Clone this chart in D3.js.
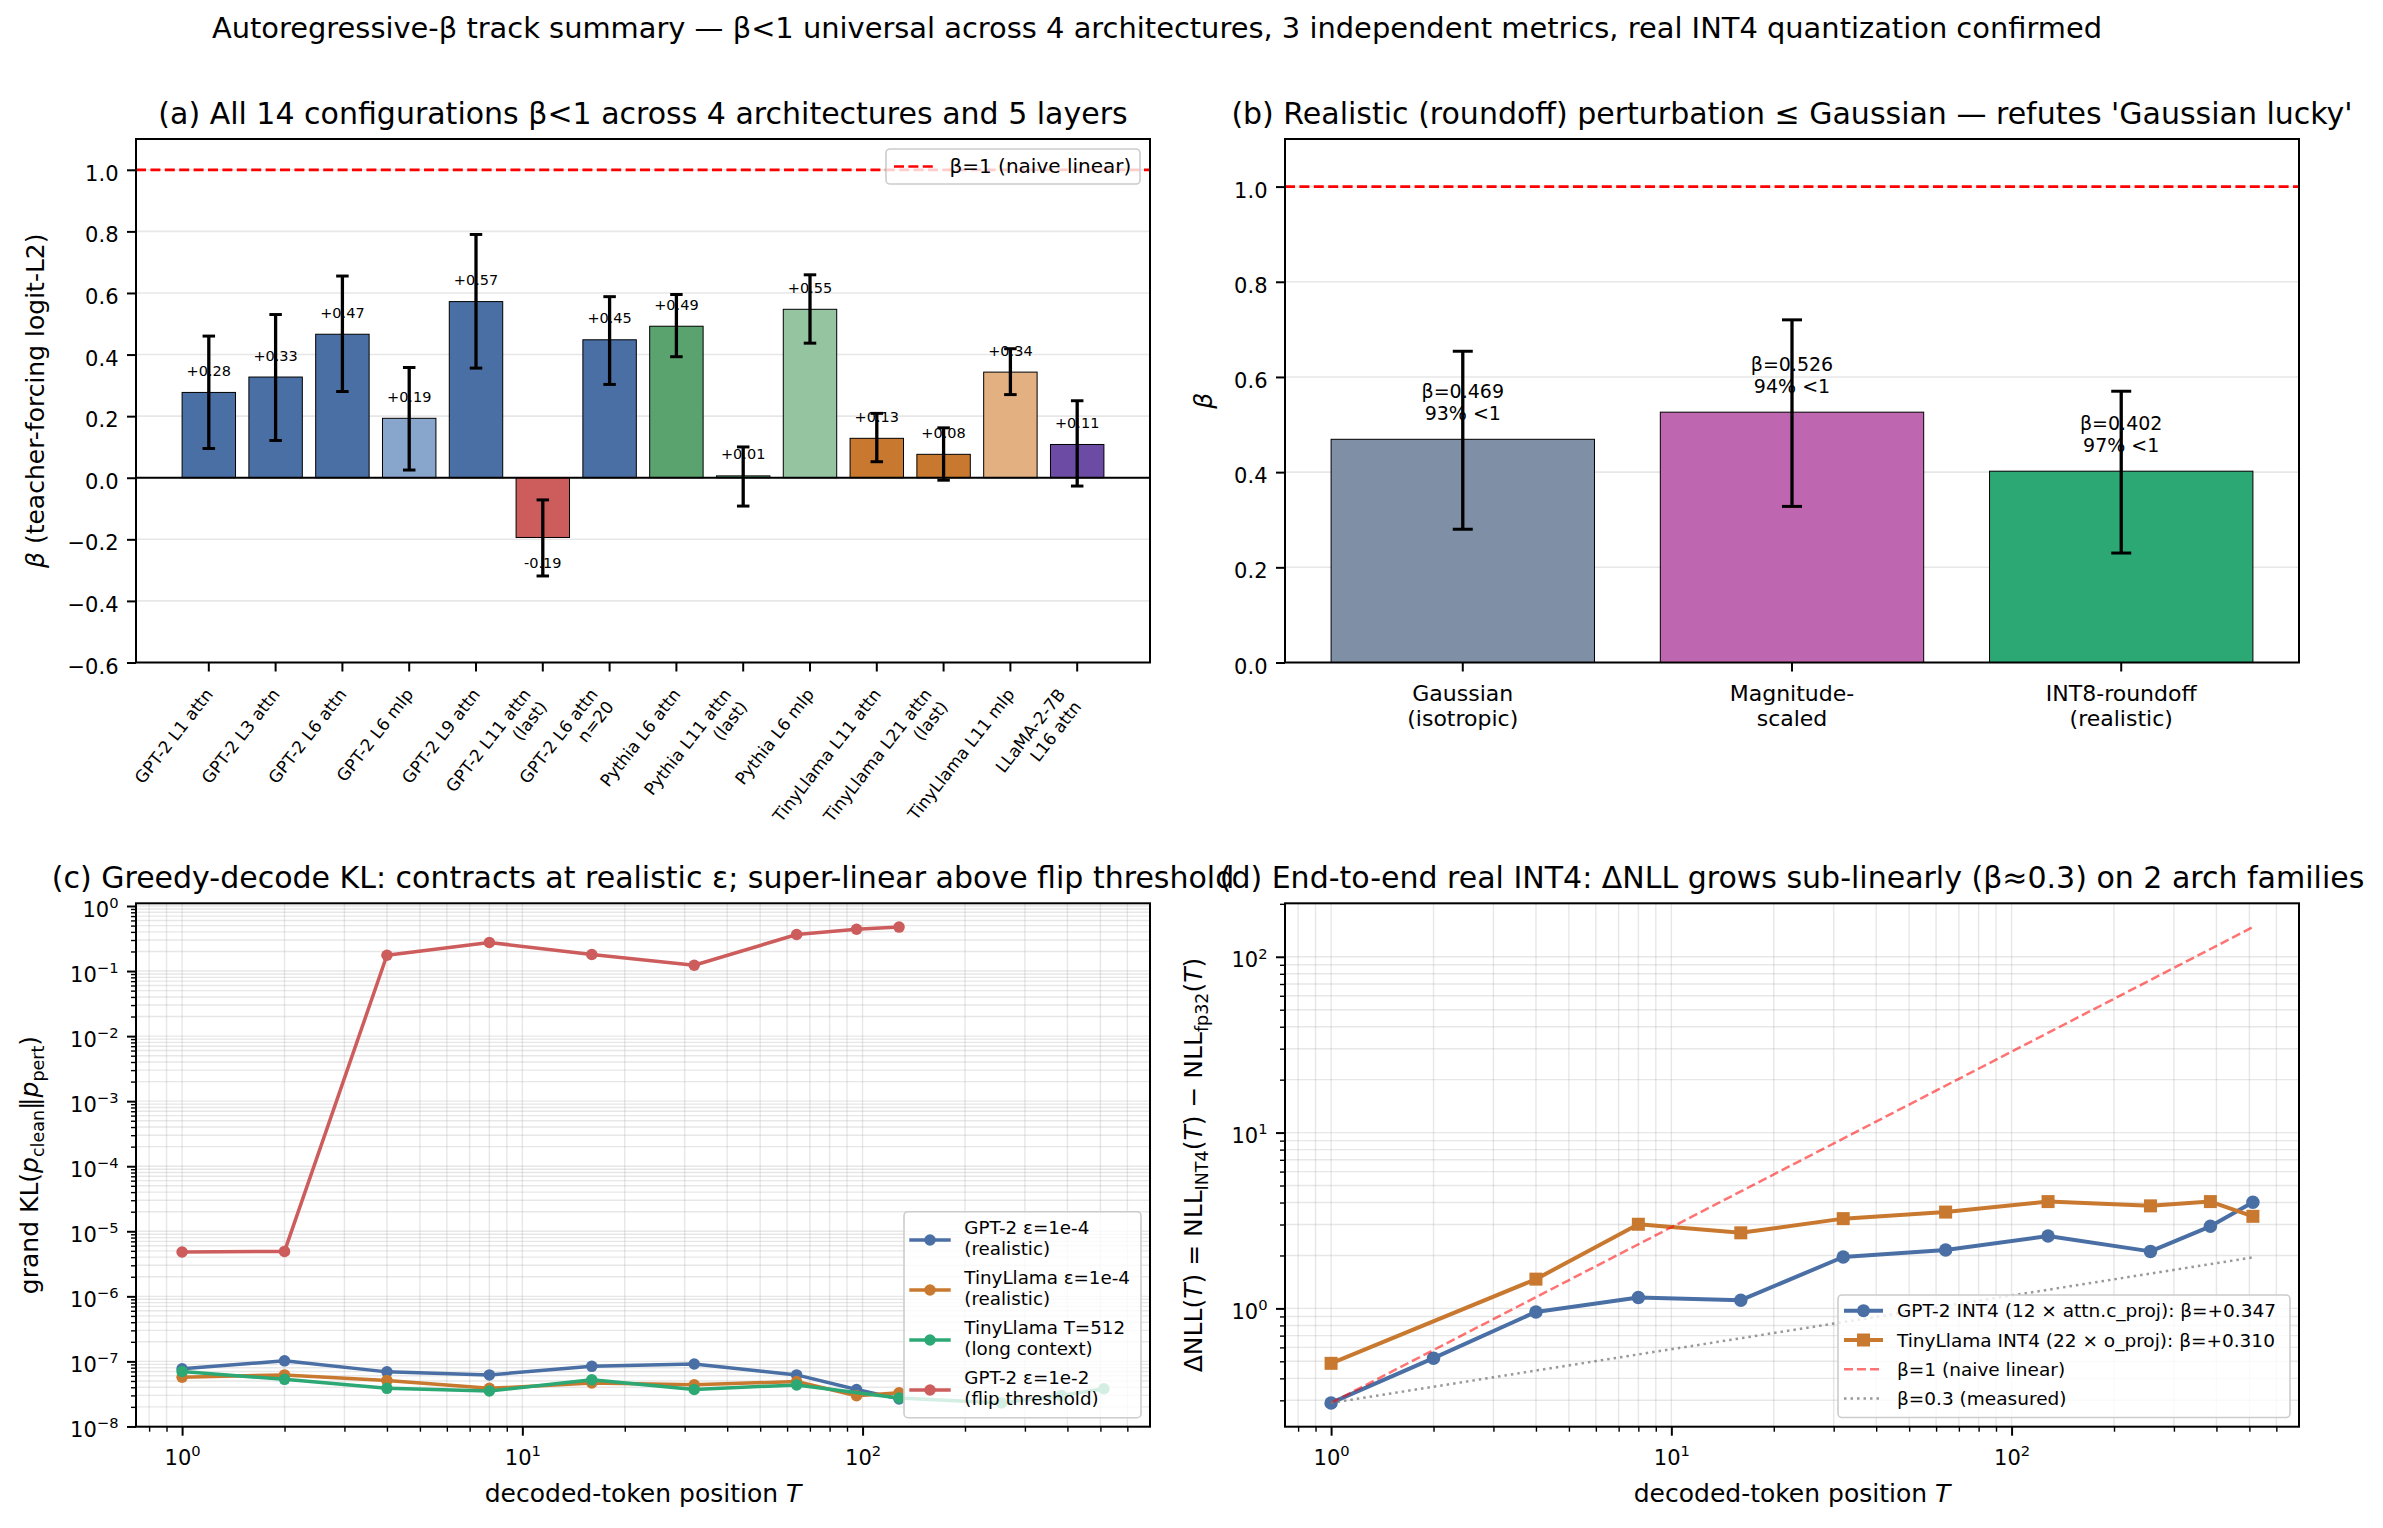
<!DOCTYPE html>
<html>
<head>
<meta charset="utf-8">
<script src="https://cdn.jsdelivr.net/npm/d3@7"></script>
<style>
  body { margin: 0; background: #fff; }
  svg { display: block; }
</style>
</head>
<body>
<svg id="fig" width="2383" height="1528"></svg>
<script>
// ---------- data ----------
// (a) teacher-forcing beta per configuration
const cfgNames = ['GPT-2 L1 attn', 'GPT-2 L3 attn', 'GPT-2 L6 attn', 'GPT-2 L6 mlp', 'GPT-2 L9 attn',
  'GPT-2 L11 attn\n(last)', 'GPT-2 L6 attn\nn=20', 'Pythia L6 attn', 'Pythia L11 attn\n(last)', 'Pythia L6 mlp',
  'TinyLlama L11 attn', 'TinyLlama L21 attn\n(last)', 'TinyLlama L11 mlp', 'LLaMA-2-7B\nL16 attn'];
const cfgBeta = [0.277, 0.327, 0.466, 0.193, 0.572, -0.194, 0.448, 0.492, 0.006, 0.547, 0.128, 0.076, 0.343, 0.108];
const cfgLo = [0.095, 0.121, 0.280, 0.025, 0.356, -0.319, 0.303, 0.393, -0.092, 0.437, 0.052, -0.008, 0.270, -0.027];
const cfgHi = [0.460, 0.530, 0.655, 0.358, 0.790, -0.072, 0.588, 0.595, 0.100, 0.659, 0.209, 0.162, 0.419, 0.250];
const betaTicksA = [-0.6, -0.4, -0.2, 0.0, 0.2, 0.4, 0.6, 0.8, 1.0];

// (b) perturbation types
const pertNames = ['Gaussian\n(isotropic)', 'Magnitude-\nscaled', 'INT8-roundoff\n(realistic)'];
const pertBeta = [0.469, 0.526, 0.402];
const pertPctBelow = [93, 94, 97];
const pertLo = [0.280, 0.328, 0.230];
const pertHi = [0.654, 0.720, 0.570];
const betaTicksB = [0.0, 0.2, 0.4, 0.6, 0.8, 1.0];

// (c) greedy-decode KL
const klT = [1, 2, 4, 8, 16, 32, 64, 96, 128];
const klTLong = [1, 2, 4, 8, 16, 32, 64, 128, 256, 384, 512];
const klGpt2 = [7.7e-8, 1.02e-7, 6.9e-8, 6.2e-8, 8.4e-8, 9.1e-8, 6.2e-8, 3.7e-8, 2.65e-8];
const klTiny = [5.7e-8, 6.2e-8, 5.1e-8, 3.85e-8, 4.65e-8, 4.36e-8, 4.9e-8, 2.96e-8, 3.3e-8];
const klTinyLong = [7.0e-8, 5.3e-8, 3.85e-8, 3.5e-8, 5.2e-8, 3.7e-8, 4.35e-8, 2.74e-8, 2.3e-8, 3.0e-8, 3.8e-8];
const klGpt2Flip = [4.8e-6, 4.9e-6, 0.175, 0.275, 0.18, 0.123, 0.364, 0.44, 0.474];

// (d) real INT4 delta NLL
const nllT = [1, 2, 4, 8, 16, 32, 64, 128, 256, 384, 512];
const nllGpt2 = [0.29, 0.521, 0.955, 1.153, 1.114, 1.96, 2.15, 2.58, 2.11, 2.93, 4.01];
const nllTinyT = [1, 4, 8, 16, 32, 64, 128, 256, 384, 512];
const nllTiny = [0.487, 1.467, 3.01, 2.69, 3.24, 3.53, 4.05, 3.83, 4.05, 3.34];
const refT = [1, 512];
const refNaive = [0.29, 147.5];
const refMeasured = [0.29, 1.95];

// ---------- style ----------
const FONT = '"DejaVu Sans", Verdana, sans-serif';
const FS_TICK = 21, FS_LABEL = 25, FS_TITLE = 30, FS_SUP = 28.9, FS_XT_A = 17, FS_VAL = 14.5, FS_BLAB = 19;
const BLUE = '#4a6fa5', BLUE_L = '#88a5cc', RED = '#cd5c5c', GREEN = '#5aa26e', GREEN_L = '#95c4a1',
  ORANGE = '#c8792f', ORANGE_L = '#e2b081', PURPLE = '#6c4ba4', TEAL = '#2ca874';
const cfgColors = [BLUE, BLUE, BLUE, BLUE_L, BLUE, RED, BLUE, GREEN, GREEN, GREEN_L, ORANGE, ORANGE, ORANGE_L, PURPLE];
const pertColors = ['#7f8fa6', '#bf66b0', TEAL];

const svg = d3.select('#fig').attr('font-family', FONT);
svg.append('rect').attr('width', 2383).attr('height', 1528).attr('fill', '#fff');

const A = {l: 136, r: 1150, t: 139, b: 662.5};
const B = {l: 1285, r: 2299, t: 139, b: 662.5};
const C = {l: 136, r: 1150, t: 903.3, b: 1426.7};
const D = {l: 1285, r: 2299, t: 903.3, b: 1426.7};

// ---------- helpers ----------
function rich(sel, parts, fs) {
  let cur = 0;
  parts.forEach(p => {
    const shift = p.sub ? fs * 0.22 : 0;
    const ts = sel.append('tspan').attr('dy', shift - cur).text(p.t);
    cur = shift;
    if (p.sub) ts.attr('font-size', fs * 0.7);
    if (p.it) ts.attr('font-style', 'italic');
  });
}

function supLabel(sel, exp, fs) {
  sel.append('tspan').text('10');
  sel.append('tspan').attr('font-size', fs * 0.7).attr('dy', -fs * 0.42)
    .text(exp < 0 ? '\u2212' + (-exp) : String(exp));
}

function frame(P) {
  svg.append('rect').attr('x', P.l).attr('y', P.t).attr('width', P.r - P.l).attr('height', P.b - P.t)
    .attr('fill', 'none').attr('stroke', '#000').attr('stroke-width', 2);
}

function title(P, str) {
  svg.append('text').attr('x', (P.l + P.r) / 2).attr('y', P.t - 15.5).attr('text-anchor', 'middle')
    .attr('font-size', FS_TITLE).text(str);
}

function yLabel(x, P, parts) {
  const t = svg.append('text').attr('text-anchor', 'middle').attr('font-size', FS_LABEL)
    .attr('transform', `translate(${x},${(P.t + P.b) / 2}) rotate(-90)`);
  rich(t, parts, FS_LABEL);
}

function xLabel(P, y) {
  const t = svg.append('text').attr('x', (P.l + P.r) / 2).attr('y', y).attr('text-anchor', 'middle')
    .attr('font-size', FS_LABEL);
  rich(t, [{t: 'decoded-token position '}, {t: 'T', it: 1}], FS_LABEL);
}

function hGrid(g, y, P, vals) {
  g.selectAll(null).data(vals).join('line')
    .attr('x1', P.l).attr('x2', P.r).attr('y1', d => y(d)).attr('y2', d => y(d))
    .attr('stroke', '#b0b0b0').attr('stroke-opacity', 0.3).attr('stroke-width', 1.6);
}

function errBars(g, lo, hi, cx, y, cap, lw) {
  lo.forEach((l, i) => {
    const x = cx(i);
    g.append('line').attr('x1', x).attr('x2', x).attr('y1', y(l)).attr('y2', y(hi[i]))
      .attr('stroke', '#000').attr('stroke-width', lw);
    [l, hi[i]].forEach(v => g.append('line').attr('x1', x - cap).attr('x2', x + cap)
      .attr('y1', y(v)).attr('y2', y(v)).attr('stroke', '#000').attr('stroke-width', lw * 0.9));
  });
}

function styleAxis(ax, lw) {
  ax.attr('font-size', FS_TICK).attr('font-family', FONT);
  ax.select('.domain').remove();
  ax.selectAll('.tick line').attr('stroke', '#000').attr('stroke-width', lw);
  ax.selectAll('.tick text').attr('fill', '#000');
}

function legendBox(x, y, w, h) {
  svg.append('rect').attr('x', x).attr('y', y).attr('width', w).attr('height', h).attr('rx', 4)
    .attr('fill', '#fff').attr('fill-opacity', 0.8).attr('stroke', '#cccccc').attr('stroke-width', 1.6);
}

function marker(g, cx, cy, shape, size, color) {
  if (shape === 's') {
    g.append('rect').attr('x', cx - size / 2).attr('y', cy - size / 2).attr('width', size).attr('height', size)
      .attr('fill', color);
  } else {
    g.append('circle').attr('cx', cx).attr('cy', cy).attr('r', size / 2).attr('fill', color);
  }
}

function series(g, x, y, xs, ys, color, lw, shape, size) {
  const pts = xs.map((t, i) => [t, ys[i]]);
  g.append('path').datum(pts).attr('d', d3.line().x(d => x(d[0])).y(d => y(d[1])))
    .attr('fill', 'none').attr('stroke', color).attr('stroke-width', lw).attr('stroke-linejoin', 'round');
  pts.forEach(d => marker(g, x(d[0]), y(d[1]), shape, size, color));
}

function logPad(ext) {
  const a = Math.log10(ext[0]), b = Math.log10(ext[1]), m = (b - a) * 0.05;
  return [Math.pow(10, a - m), Math.pow(10, b + m)];
}

function logTicks(dom) {
  const lo = Math.floor(Math.log10(dom[0])), hi = Math.ceil(Math.log10(dom[1]));
  const major = [], minor = [];
  for (let e = lo; e <= hi; e++) {
    const b = Math.pow(10, e);
    if (b >= dom[0] && b <= dom[1]) major.push(b);
    for (let k = 2; k < 10; k++) {
      const v = k * b;
      if (v >= dom[0] && v <= dom[1]) minor.push(v);
    }
  }
  return {major, minor};
}

function logPanel(P, xDom, yDom) {
  const g = svg.append('g');
  const x = d3.scaleLog().domain(xDom).range([P.l, P.r]);
  const y = d3.scaleLog().domain(yDom).range([P.b, P.t]);
  const xt = logTicks(xDom), yt = logTicks(yDom);
  const grid = g.append('g').attr('stroke', '#b0b0b0').attr('stroke-opacity', 0.3).attr('stroke-width', 1.4);
  xt.major.concat(xt.minor).forEach(v => grid.append('line')
    .attr('x1', x(v)).attr('x2', x(v)).attr('y1', P.t).attr('y2', P.b));
  yt.major.concat(yt.minor).forEach(v => grid.append('line')
    .attr('x1', P.l).attr('x2', P.r).attr('y1', y(v)).attr('y2', y(v)));

  const axes = svg.append('g');
  axes.append('g').attr('transform', `translate(0,${P.b})`)
    .call(d3.axisBottom(x).tickValues(xt.minor).tickSize(5).tickFormat(''))
    .call(ax => styleAxis(ax, 1.4));
  axes.append('g').attr('transform', `translate(0,${P.b})`)
    .call(d3.axisBottom(x).tickValues(xt.major).tickSize(9).tickPadding(8.5).tickFormat(''))
    .call(ax => {
      styleAxis(ax, 2);
      ax.selectAll('.tick text').attr('y', 38.5).attr('dy', null)
        .each(function (d) { supLabel(d3.select(this), Math.round(Math.log10(d)), FS_TICK); });
    });
  axes.append('g').attr('transform', `translate(${P.l},0)`)
    .call(d3.axisLeft(y).tickValues(yt.minor).tickSize(5).tickFormat(''))
    .call(ax => styleAxis(ax, 1.4));
  axes.append('g').attr('transform', `translate(${P.l},0)`)
    .call(d3.axisLeft(y).tickValues(yt.major).tickSize(9).tickPadding(8.5).tickFormat(''))
    .call(ax => {
      styleAxis(ax, 2);
      ax.selectAll('.tick text').attr('dy', '0.48em')
        .each(function (d) { supLabel(d3.select(this), Math.round(Math.log10(d)), FS_TICK); });
    });
  return {g, x, y};
}

// ---------- suptitle ----------
svg.append('text').attr('x', 1157).attr('y', 38).attr('text-anchor', 'middle').attr('font-size', FS_SUP)
  .text('Autoregressive-\u03b2 track summary \u2014 \u03b2<1 universal across 4 architectures, 3 independent metrics, real INT4 quantization confirmed');

// ---------- (a) ----------
const xA = d3.scaleBand().domain(d3.range(cfgNames.length)).range([A.l, A.r]).paddingInner(0.2).paddingOuter(0.69);
const yA = d3.scaleLinear().domain([-0.6, 1.1]).range([A.b, A.t]);
const cA = i => xA(i) + xA.bandwidth() / 2;
const gA = svg.append('g');
hGrid(gA, yA, A, betaTicksA);
gA.append('line').attr('x1', A.l).attr('x2', A.r).attr('y1', yA(1)).attr('y2', yA(1))
  .attr('stroke', 'red').attr('stroke-width', 2.7).attr('stroke-dasharray', '10,4.4');
gA.selectAll('rect.bar').data(cfgBeta).join('rect').attr('class', 'bar')
  .attr('x', (d, i) => xA(i)).attr('width', xA.bandwidth())
  .attr('y', d => yA(Math.max(0, d))).attr('height', d => Math.abs(yA(d) - yA(0)))
  .attr('fill', (d, i) => cfgColors[i]).attr('stroke', '#000').attr('stroke-width', 1);
gA.append('line').attr('x1', A.l).attr('x2', A.r).attr('y1', yA(0)).attr('y2', yA(0))
  .attr('stroke', '#000').attr('stroke-width', 2);
cfgBeta.forEach((v, i) => {
  gA.append('text').attr('x', cA(i)).attr('text-anchor', 'middle').attr('font-size', FS_VAL)
    .attr('y', v >= 0 ? yA(v + 0.05) - 1 : yA(v - 0.05) + 15)
    .text((v >= 0 ? '+' : '-') + Math.abs(v).toFixed(2));
});
errBars(gA, cfgLo, cfgHi, cA, yA, 6.25, 3.3);

gA.append('g').attr('transform', `translate(${A.l},0)`)
  .call(d3.axisLeft(yA).tickValues(betaTicksA).tickFormat(d3.format('.1f')).tickSize(9).tickPadding(8.5))
  .call(ax => { styleAxis(ax, 2); ax.selectAll('.tick text').attr('dy', '0.5em'); });
gA.append('g').attr('transform', `translate(0,${A.b})`)
  .call(d3.axisBottom(xA).tickSize(9).tickFormat(''))
  .call(ax => styleAxis(ax, 2));
const rot = 52, sinR = Math.sin(rot * Math.PI / 180);
cfgNames.forEach((name, i) => {
  const lines = name.split('\n');
  const lh = 1.2 * FS_XT_A;
  const px = cA(i) + 5 - (lines.length - 1) * lh * sinR;
  const t = gA.append('text').attr('text-anchor', 'end').attr('font-size', FS_XT_A)
    .attr('transform', `translate(${px},${A.b + 32}) rotate(${-rot})`);
  lines.forEach((l, k) => t.append('tspan').attr('x', 0).attr('dy', k ? lh : 0).text(l));
});
frame(A);
title(A, '(a) All 14 configurations \u03b2<1 across 4 architectures and 5 layers');
yLabel(43.6, A, [{t: '\u03b2', it: 1}, {t: ' (teacher-forcing logit-L2)'}]);
legendBox(886, 149, 254, 35);
svg.append('line').attr('x1', 894).attr('x2', 933).attr('y1', 166.5).attr('y2', 166.5)
  .attr('stroke', 'red').attr('stroke-width', 2.7).attr('stroke-dasharray', '10,4.4');
svg.append('text').attr('x', 949.5).attr('y', 173).attr('font-size', 20).text('\u03b2=1 (naive linear)');

// ---------- (b) ----------
const xB = d3.scaleBand().domain(d3.range(pertNames.length)).range([B.l, B.r]).paddingInner(0.2).paddingOuter(0.14);
const yB = d3.scaleLinear().domain([0, 1.1]).range([B.b, B.t]);
const cB = i => xB(i) + xB.bandwidth() / 2;
const gB = svg.append('g');
hGrid(gB, yB, B, betaTicksB);
gB.append('line').attr('x1', B.l).attr('x2', B.r).attr('y1', yB(1)).attr('y2', yB(1))
  .attr('stroke', 'red').attr('stroke-width', 2.7).attr('stroke-dasharray', '10,4.4');
gB.selectAll('rect.bar').data(pertBeta).join('rect').attr('class', 'bar')
  .attr('x', (d, i) => xB(i)).attr('width', xB.bandwidth())
  .attr('y', d => yB(d)).attr('height', d => yB(0) - yB(d))
  .attr('fill', (d, i) => pertColors[i]).attr('stroke', '#000').attr('stroke-width', 1);
pertBeta.forEach((v, i) => {
  const base = yB(v + 0.03) - 5;
  const t = gB.append('text').attr('text-anchor', 'middle').attr('font-size', FS_BLAB);
  t.append('tspan').attr('x', cB(i)).attr('y', base - 22).text('\u03b2=' + v.toFixed(3));
  t.append('tspan').attr('x', cB(i)).attr('y', base).text(pertPctBelow[i] + '% <1');
});
errBars(gB, pertLo, pertHi, cB, yB, 10, 3.3);
gB.append('g').attr('transform', `translate(${B.l},0)`)
  .call(d3.axisLeft(yB).tickValues(betaTicksB).tickFormat(d3.format('.1f')).tickSize(9).tickPadding(8.5))
  .call(ax => { styleAxis(ax, 2); ax.selectAll('.tick text').attr('dy', '0.5em'); });
gB.append('g').attr('transform', `translate(0,${B.b})`)
  .call(d3.axisBottom(xB).tickSize(9).tickFormat(''))
  .call(ax => styleAxis(ax, 2));
pertNames.forEach((name, i) => {
  const t = gB.append('text').attr('text-anchor', 'middle').attr('font-size', 22);
  name.split('\n').forEach((l, k) => t.append('tspan').attr('x', cB(i)).attr('y', B.b + 38 + k * 25.5).text(l));
});
frame(B);
title(B, "(b) Realistic (roundoff) perturbation \u2264 Gaussian \u2014 refutes 'Gaussian lucky'");
yLabel(1212, B, [{t: '\u03b2', it: 1}]);

// ---------- (c) ----------
const klAll = klGpt2.concat(klTiny, klTinyLong, klGpt2Flip);
const pc = logPanel(C, logPad(d3.extent(klTLong)), logPad(d3.extent(klAll)));
series(pc.g, pc.x, pc.y, klT, klGpt2, BLUE, 3.5, 'o', 11.5);
series(pc.g, pc.x, pc.y, klT, klTiny, ORANGE, 3.5, 'o', 11.5);
series(pc.g, pc.x, pc.y, klTLong, klTinyLong, TEAL, 3.5, 'o', 11.5);
series(pc.g, pc.x, pc.y, klT, klGpt2Flip, RED, 3.5, 'o', 11.5);
frame(C);
title(C, '(c) Greedy-decode KL: contracts at realistic \u03b5; super-linear above flip threshold');
yLabel(38.3, C, [{t: 'grand KL('}, {t: 'p', it: 1}, {t: 'clean', sub: 1}, {t: '\u2016'}, {t: 'p', it: 1}, {t: 'pert', sub: 1}, {t: ')'}]);
xLabel(C, 1502);
legendBox(904, 1211.7, 237, 206);
[
  {lab: ['GPT-2 \u03b5=1e-4', '(realistic)'], color: BLUE},
  {lab: ['TinyLlama \u03b5=1e-4', '(realistic)'], color: ORANGE},
  {lab: ['TinyLlama T=512', '(long context)'], color: TEAL},
  {lab: ['GPT-2 \u03b5=1e-2', '(flip threshold)'], color: RED}
].forEach((e, i) => {
  const yy = 1240 + 50 * i;
  svg.append('line').attr('x1', 909.3).attr('x2', 950.7).attr('y1', yy).attr('y2', yy)
    .attr('stroke', e.color).attr('stroke-width', 3.5);
  marker(svg, 930, yy, 'o', 11.5, e.color);
  const t = svg.append('text').attr('font-size', 18.3);
  e.lab.forEach((l, k) => t.append('tspan').attr('x', 964.3).attr('y', 1233.5 + 50 * i + 21 * k).text(l));
});

// ---------- (d) ----------
const nllAll = nllGpt2.concat(nllTiny, refNaive, refMeasured);
const pd = logPanel(D, logPad(d3.extent(nllT)), logPad(d3.extent(nllAll)));
series(pd.g, pd.x, pd.y, nllT, nllGpt2, BLUE, 4, 'o', 13.5);
series(pd.g, pd.x, pd.y, nllTinyT, nllTiny, ORANGE, 4, 's', 13);
const refLine = d3.line().x((d, i) => pd.x(refT[i])).y(d => pd.y(d));
pd.g.append('path').attr('d', refLine(refNaive)).attr('fill', 'none')
  .attr('stroke', 'red').attr('stroke-opacity', 0.55).attr('stroke-width', 2.5).attr('stroke-dasharray', '9,4');
pd.g.append('path').attr('d', refLine(refMeasured)).attr('fill', 'none')
  .attr('stroke', 'gray').attr('stroke-opacity', 0.8).attr('stroke-width', 2.5).attr('stroke-dasharray', '2.5,4');
frame(D);
title(D, '(d) End-to-end real INT4: \u0394NLL grows sub-linearly (\u03b2\u22480.3) on 2 arch families');
yLabel(1202, D, [{t: '\u0394NLL('}, {t: 'T', it: 1}, {t: ') = NLL'}, {t: 'INT4', sub: 1}, {t: '('}, {t: 'T', it: 1},
  {t: ') \u2212 NLL'}, {t: 'fp32', sub: 1}, {t: '('}, {t: 'T', it: 1}, {t: ')'}]);
xLabel(D, 1502);
legendBox(1838, 1295, 452, 122.5);
[
  {lab: 'GPT-2 INT4 (12 \u00d7 attn.c_proj): \u03b2=+0.347', color: BLUE, shape: 'o'},
  {lab: 'TinyLlama INT4 (22 \u00d7 o_proj): \u03b2=+0.310', color: ORANGE, shape: 's'},
  {lab: '\u03b2=1 (naive linear)', color: 'red', dash: '9,4', op: 0.55},
  {lab: '\u03b2=0.3 (measured)', color: 'gray', dash: '2.5,4', op: 0.8}
].forEach((e, i) => {
  const yy = 1310.7 + 29.3 * i;
  const ln = svg.append('line').attr('x1', 1844).attr('x2', 1883).attr('y1', yy).attr('y2', yy)
    .attr('stroke', e.color);
  if (e.dash) ln.attr('stroke-width', 2.5).attr('stroke-dasharray', e.dash).attr('stroke-opacity', e.op);
  else { ln.attr('stroke-width', 4); marker(svg, 1863.5, yy, e.shape, 13, e.color); }
  svg.append('text').attr('x', 1897).attr('y', yy + 6.5).attr('font-size', 18.5).text(e.lab);
});
</script>
</body>
</html>
